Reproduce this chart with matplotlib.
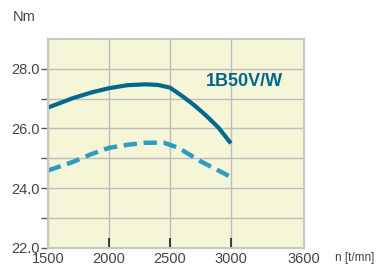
import matplotlib
matplotlib.use("Agg")
from matplotlib import pyplot as plt
from matplotlib.ticker import FixedLocator

plt.rcParams["font.family"] = ["Liberation Sans", "DejaVu Sans"]

# data
rpm_max = [1500, 1700, 1850, 2000, 2150, 2300, 2400, 2500, 2600, 2700, 2800, 2900, 3000]
torque_max = [26.70, 27.01, 27.2, 27.35, 27.45, 27.48, 27.46, 27.37, 27.09, 26.78, 26.42, 26.02, 25.5]
rpm_dash = [1500, 1700, 1850, 2000, 2150, 2300, 2450, 2570, 2650, 2750, 2870, 3000]
torque_dash = [24.59, 24.87, 25.13, 25.35, 25.45, 25.52, 25.52, 25.35, 25.15, 24.9, 24.65, 24.37]
xticks = [1500, 2000, 2500, 3000, 3600]
yticks = [22.0, 24.0, 26.0, 28.0]
yminor = [23.0, 25.0, 27.0]

fig = plt.figure(figsize=(3.79, 2.66), dpi=100)
ax = fig.add_axes([48/379, 18.3/266, 256/379, 208.7/266])
ax.set_facecolor("#f5f6d8")

ax.plot(rpm_max, torque_max, color="#00688f", lw=3.0, solid_capstyle="butt",
        solid_joinstyle="round")
ax.plot(rpm_dash, torque_dash, color="#2f9cc2", lw=3.2, ls=(0, (3.0, 1.5)),
        dash_joinstyle="round")

ax.set_xlim(1500, 3600)
ax.set_ylim(22, 29)
ax.set_xticks(xticks)
ax.set_yticks(yticks)
ax.set_yticklabels([f"{v:.1f}" for v in yticks])
ax.yaxis.set_minor_locator(FixedLocator(yminor))
ax.grid(True, which="both", color="#bdbdbd", lw=1.0)
ax.set_axisbelow(True)

ax.tick_params(axis="y", which="both", direction="out", length=5, width=1,
               color="#555555", labelcolor="#444444", labelsize=10.5, pad=1)
ax.tick_params(axis="x", direction="in", length=7, width=1.2,
               color="#222222", labelcolor="#444444", labelsize=10.5, pad=3)
for s in ax.spines.values():
    s.set_color("#c8c8c0")
    s.set_linewidth(1.5)

ax.text(2795, 27.59, "1B50V/W", color="#00688f", fontsize=13, fontweight="bold",
        va="center")
fig.text(13/379, 1 - 17/266, "Nm", color="#444444", fontsize=10.5, va="center")
fig.text(335/379, 1 - 258/266, "n [t/mn]", color="#444444", fontsize=8.5, va="center")

fig.savefig("out.png", dpi=100)
